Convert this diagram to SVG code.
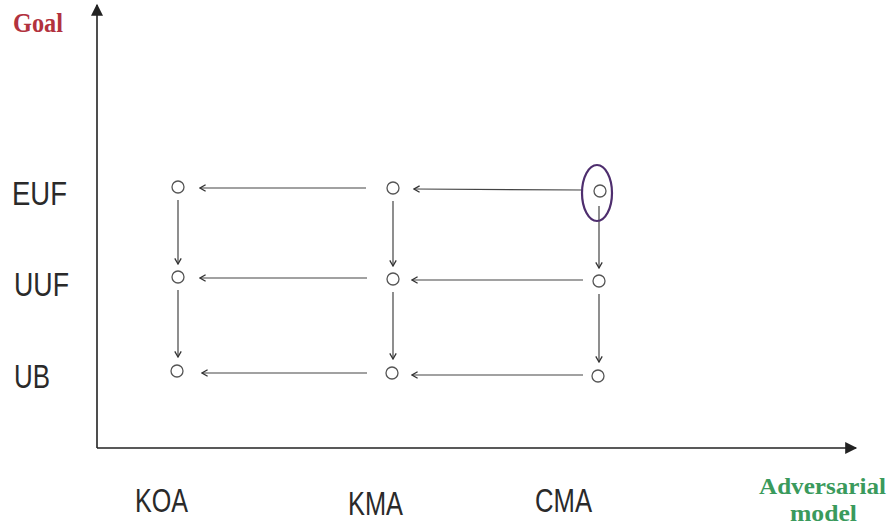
<svg xmlns="http://www.w3.org/2000/svg" width="889" height="531" viewBox="0 0 889 531">
<defs>
<style>
.ax{stroke:#222;stroke-width:1.6;fill:none}
.c{stroke:#555;stroke-width:1.3;fill:#fff}
.e{stroke:#444;stroke-width:1.2;fill:none;marker-end:url(#ch)}
.lbl{font-family:"Liberation Sans",Arial,sans-serif;font-size:33px;fill:#2a2a2a}
.srf{font-family:"Liberation Serif","Times New Roman",serif;font-weight:bold}
</style>
<marker id="ch" viewBox="0 0 10 10" refX="9" refY="5" markerWidth="8" markerHeight="8" markerUnits="userSpaceOnUse" orient="auto">
<polyline points="2,1 9,5 2,9" fill="none" stroke="#333" stroke-width="1.6"/>
</marker>
<marker id="tri" viewBox="0 0 10 10" refX="9" refY="5" markerWidth="14" markerHeight="12" markerUnits="userSpaceOnUse" orient="auto">
<path d="M0,0 L10,5 L0,10 Z" fill="#222"/>
</marker>
</defs>
<rect width="889" height="531" fill="#fff"/>
<g id="axes">
<line class="ax" x1="97" y1="448" x2="97" y2="5" marker-end="url(#tri)"/>
<line class="ax" x1="97" y1="448" x2="856" y2="448" marker-end="url(#tri)"/>
</g>
<g id="labels">
<text class="srf" x="13" y="32" font-size="27" fill="#b2323e" textLength="50" lengthAdjust="spacingAndGlyphs">Goal</text>
<text class="srf" x="759" y="494" font-size="24" fill="#3a9a5c" textLength="127" lengthAdjust="spacingAndGlyphs">Adversarial</text>
<text class="srf" x="790" y="521" font-size="24" fill="#3a9a5c" textLength="67" lengthAdjust="spacingAndGlyphs">model</text>
<text class="lbl" x="12" y="205" textLength="55" lengthAdjust="spacingAndGlyphs">EUF</text>
<text class="lbl" x="14" y="296" textLength="55" lengthAdjust="spacingAndGlyphs">UUF</text>
<text class="lbl" x="14" y="388" textLength="36" lengthAdjust="spacingAndGlyphs">UB</text>
<text class="lbl" x="135" y="512" textLength="53" lengthAdjust="spacingAndGlyphs">KOA</text>
<text class="lbl" x="348" y="515" textLength="55" lengthAdjust="spacingAndGlyphs">KMA</text>
<text class="lbl" x="535" y="512" textLength="57" lengthAdjust="spacingAndGlyphs">CMA</text>
</g>
<g id="connectors">
<line class="e" x1="366" y1="188" x2="200" y2="188"/>
<line class="e" x1="582" y1="190" x2="414" y2="189"/>
<line class="e" x1="367" y1="278" x2="200" y2="278"/>
<line class="e" x1="583" y1="280" x2="412" y2="280"/>
<line class="e" x1="367" y1="373" x2="202" y2="373"/>
<line class="e" x1="583" y1="375" x2="412" y2="375"/>
<line class="e" x1="178" y1="200" x2="178" y2="264"/>
<line class="e" x1="178" y1="290" x2="178" y2="357"/>
<line class="e" x1="393" y1="201" x2="393" y2="266"/>
<line class="e" x1="393" y1="292" x2="393" y2="359"/>
<line class="e" x1="599" y1="206" x2="599" y2="268"/>
<line class="e" x1="599" y1="294" x2="599" y2="362"/>
</g>
<g id="n-koa-euf"><circle class="c" cx="178" cy="187" r="6"/></g>
<g id="n-kma-euf"><circle class="c" cx="393" cy="188" r="6"/></g>
<g id="n-cma-euf"><circle class="c" cx="600" cy="191" r="6"/><ellipse cx="597" cy="193" rx="15" ry="28" fill="none" stroke="#4e2e6e" stroke-width="2.2"/></g>
<g id="n-koa-uuf"><circle class="c" cx="178" cy="277" r="6"/></g>
<g id="n-kma-uuf"><circle class="c" cx="393" cy="279" r="6"/></g>
<g id="n-cma-uuf"><circle class="c" cx="599" cy="281" r="6"/></g>
<g id="n-koa-ub"><circle class="c" cx="177" cy="371" r="6"/></g>
<g id="n-kma-ub"><circle class="c" cx="392" cy="373" r="6"/></g>
<g id="n-cma-ub"><circle class="c" cx="598" cy="376" r="6"/></g>
</svg>
